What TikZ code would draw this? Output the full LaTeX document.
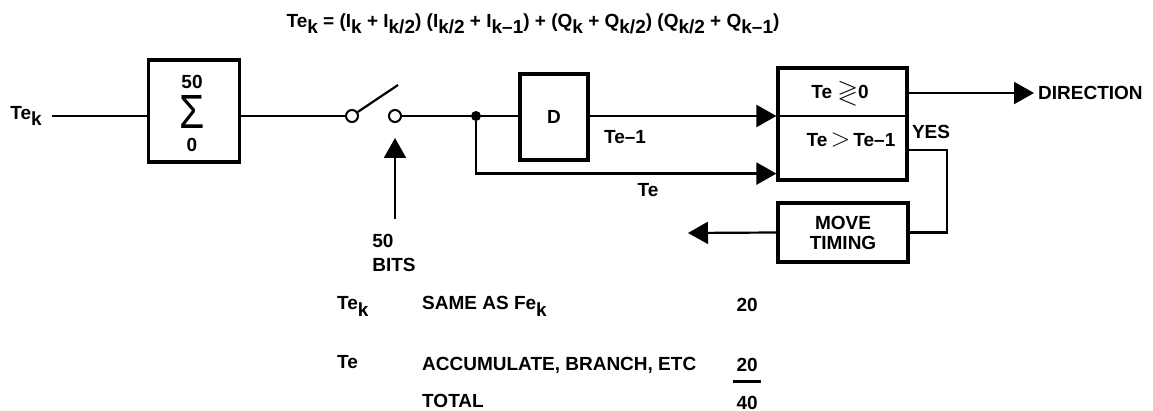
\documentclass[tikz,border=0pt]{standalone}
\usepackage{amsmath, amssymb}
\usepackage{fontspec}
\setmainfont{Liberation Sans}
\usetikzlibrary{arrows.meta}

% lowered index, as the print sets it
\newcommand{\lowsub}[1]{\raisebox{-0.6ex}{#1}}

\begin{document}
\begin{tikzpicture}[x=1pt, y=-1pt, >={Triangle[length=20pt, width=22pt]},
  font=\fontsize{19}{20}\selectfont\bfseries]
% --- Global Styles ---
\tikzstyle{wire} = [line width=2.2pt]
\tikzstyle{flow} = [->, line width=2.2pt]
\tikzstyle{block} = [draw, line width=3.2pt, inner sep=0pt]
\tikzstyle{contact} = [draw, circle, line width=2pt, fill=white, minimum size=12pt, inner sep=0pt]
\tikzstyle{junction} = [circle, fill, minimum size=10pt, inner sep=0pt]
\tikzstyle{txt} = [inner sep=0pt]

\useasboundingbox (0,0) rectangle (1153,411);

% --- Key Alignment Offsets ---
\def\ym{116}    % main signal line
\def\xt{337}    % table: first column
\def\xd{422}    % table: text column
\def\xn{758}    % table: number column

% ==========================================
% FORMULA
% ==========================================
\node[txt] (eqn) at (533,24) {Te\lowsub{k} = (I\lowsub{k} + I\lowsub{k/2}) (I\lowsub{k/2} + I\lowsub{k--1}) + (Q\lowsub{k} + Q\lowsub{k/2}) (Q\lowsub{k/2} + Q\lowsub{k--1})};

% ==========================================
% INPUT, SUMMER AND SWITCH
% ==========================================
\node[txt, anchor=east] (tekin) at (42,116) {Te\lowsub{k}};
\node[block, minimum width=91pt, minimum height=102pt] (sum) at (194,111) {};
\node[txt] (sumhi) at (192,82) {50};
\node[txt] (sumsig) at (192,112) {\scalebox{0.85}[1]{\fontsize{48}{48}\selectfont\mdseries Σ}};
\node[txt] (sumlo) at (192,145) {0};
\draw[wire, shorten <=10pt] (tekin.east) -- (tekin.east -| sum.west);

\node[contact] (swl) at (352,\ym) {};
\node[contact] (swr) at (395,\ym) {};
\coordinate (armtip) at (398,85);
\draw[wire] (sum.east |- swl) -- (swl.west);
\draw[wire] (swl.35) -- (armtip);

% Switch drive
\node[txt, align=left] (bits) at (394,253) {50\\[4pt]BITS};
\coordinate (bitsfoot) at (395,219);
\draw[flow] (bitsfoot) -- ([yshift=-15pt]swr.south);

% ==========================================
% DELAY AND COMPARE
% ==========================================
\node[junction] (jn) at (476,\ym) {};
\draw[wire] (swr.east) -- (jn);

\node[block, minimum width=68pt, minimum height=86pt] (dly) at (554,117) {D};
\draw[wire] (jn) -- (dly.west |- jn);

\node[block, minimum width=129pt, minimum height=112pt] (cmp) at (842.5,124) {};
\draw[line width=1.6pt] (cmp.west |- jn) -- (cmp.east |- jn);
\node[txt] (cmpge) at (840,93) {Te \raisebox{-1pt}{\scalebox{1.4}{$\gtrless$}}0};
\node[txt] (cmpgt) at (851,140) {Te\,\scalebox{1.5}{$>$}\,Te--1};

% Te-1 and Te into the compare box
\draw[flow] (dly.east |- jn) -- (cmp.west |- jn);
\node[txt] (tem1) at (625,137) {Te--1};
\draw[flow] (jn) |- ([yshift=8pt]cmp.south west);
\node[txt] (te) at (648,190) {Te};

% Sign output
\node[txt, anchor=west] (dir) at (1038,93) {DIRECTION};
\draw[flow, shorten >=4pt] (cmp.east |- cmpge) -- (dir.west);

% ==========================================
% MOVE TIMING
% ==========================================
\node[block, minimum width=130pt, minimum height=59pt, align=center] (mov) at (843,232.5) {MOVE\\TIMING};
\coordinate (yesturn) at (947,150);
\draw[wire] ([yshift=-26pt]cmp.east) -- (yesturn) |- (mov.east);
\node[txt] (yes) at (931,132) {YES};
\coordinate (movout) at (688,233);
\draw[flow] (mov.west) -- (movout);

% ==========================================
% TABLE
% ==========================================
\node[txt, anchor=base west] (tekrow) at (\xt,310) {Te\lowsub{k}};
\node[txt, anchor=base west] (tekdesc) at (\xd,310) {SAME AS Fe\lowsub{k}};
\node[txt, anchor=base east] (tekcnt) at (\xn,312) {20};

\node[txt, anchor=base west] (terow) at (\xt,368) {Te};
\node[txt, anchor=base west] (tedesc) at (\xd,370) {ACCUMULATE, BRANCH, ETC};
\node[txt, anchor=base east] (tecnt) at (\xn,371) {20};
\draw[line width=2.4pt] ([yshift=-10pt, xshift=-3pt]tecnt.south west) -- ([yshift=-10pt, xshift=3pt]tecnt.south east);

\node[txt, anchor=base west] (totrow) at (\xd,407) {TOTAL};
\node[txt, anchor=base east] (totcnt) at (\xn,409) {40};

\end{tikzpicture}
\end{document}
